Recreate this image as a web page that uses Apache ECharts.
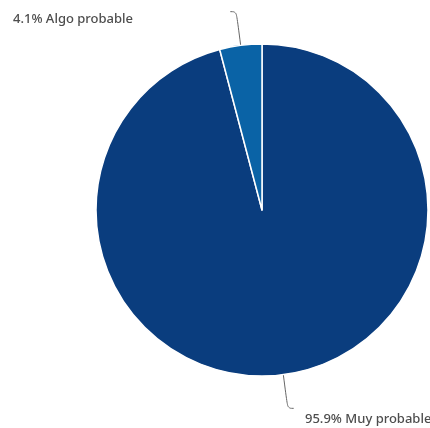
<!DOCTYPE html>
<html><head><meta charset="utf-8">
<script src="https://cdn.jsdelivr.net/npm/echarts@6/dist/echarts.min.js"></script>
<style>html,body{margin:0;padding:0;background:#fff}#c{width:430px;height:428px}</style>
</head><body><div id="c"></div>
<script>
const categories = ['Muy probable', 'Algo probable'];
const values = [95.9, 4.1];
const colors = ['#0a3d7e', '#0a63a6'];

const chart = echarts.init(document.getElementById('c'), null, {renderer: 'canvas'});
const labelPos = {
  'Algo probable': {x: 13, y: 19},
  'Muy probable': {x: 305, y: 419}
};
chart.setOption({
  animation: false,
  series: [{
    type: 'pie',
    center: [262, 210],
    radius: [0, 166],
    startAngle: 90,
    clockwise: true,
    data: categories.map((c, i) => ({name: c, value: values[i], itemStyle: {color: colors[i]}})),
    itemStyle: {borderColor: '#ffffff', borderWidth: 1.5},
    label: {
      show: true,
      position: 'outside',
      formatter: p => p.value.toFixed(1) + '% ' + p.name,
      color: '#4d4d4d',
      fontFamily: 'Noto Sans',
      fontWeight: 500,
      fontSize: 13,
      overflow: 'none'
    },
    labelLine: {
      show: true,
      length: 34,
      length2: 6,
      smooth: 0.4,
      lineStyle: {color: '#666666', width: 1}
    },
    labelLayout: function (params) {
      const name = categories[params.dataIndex];
      const pos = labelPos[name];
      return {x: pos.x, y: pos.y, align: 'left', verticalAlign: 'middle', labelLinePoints: params.labelLinePoints};
    }
  }]
});
</script></body></html>
